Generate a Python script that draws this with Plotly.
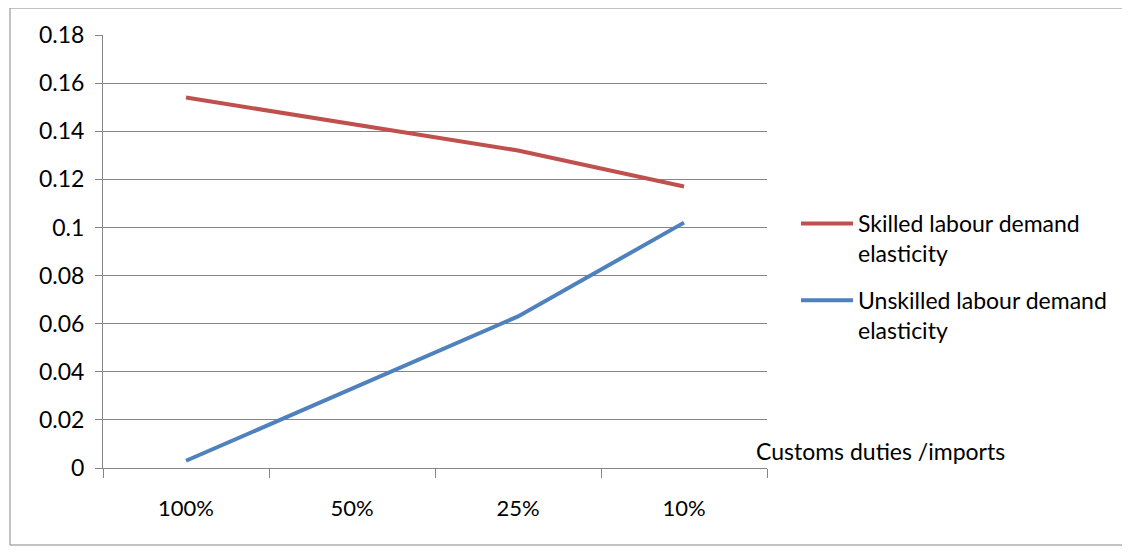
import plotly.graph_objects as go

categories = ["100%", "50%", "25%", "10%"]
skilled = [0.154, 0.143, 0.132, 0.117]
unskilled = [0.003, 0.033, 0.063, 0.102]
y_ticks = [0, 0.02, 0.04, 0.06, 0.08, 0.1, 0.12, 0.14, 0.16, 0.18]
y_tick_text = ["0", "0.02", "0.04", "0.06", "0.08", "0.1", "0.12", "0.14", "0.16", "0.18"]
series_names = ["Skilled labour demand<br>elasticity", "Unskilled labour demand<br>elasticity"]
x_title = "Customs duties /imports"

FONT = "Lato"
GRID = "#868686"
OFF = 8  # page body margin

fig = go.Figure()
fig.add_trace(go.Scatter(x=categories, y=skilled, mode="lines", name=series_names[0],
                         legendgroup="a", line=dict(color="#C0504D", width=4)))
fig.add_trace(go.Scatter(x=categories, y=unskilled, mode="lines", name=series_names[1],
                         legendgroup="b", line=dict(color="#4F81BD", width=4)))

FW, FH = 1130 - OFF, 552 - OFF
L, T = 103 - OFF, 35 - OFF
R, B = FW - (767 - OFF), FH - (468 - OFF)
W, H = FW - L - R, FH - T - B


def px(xp):
    return (xp - 103) / W


def py(yp):
    return (468 - yp) / H


fig.update_layout(
    width=FW, height=FH,
    margin=dict(l=L, r=R, t=T, b=B),
    paper_bgcolor="white", plot_bgcolor="white",
    font=dict(family=FONT, size=23, color="#000000"),
    showlegend=True,
    legend=dict(x=px(796), y=py(202), xanchor="left", yanchor="top",
                valign="top", font=dict(size=23), bgcolor="rgba(0,0,0,0)",
                tracegroupgap=14, itemwidth=52),
    xaxis=dict(type="category", range=[-0.5, 3.5], showgrid=False,
               showline=True, linecolor=GRID, linewidth=1,
               ticks="outside", tickson="boundaries", ticklen=9, tickcolor=GRID,
               ticklabelstandoff=21, tickfont=dict(size=22)),
    yaxis=dict(range=[0, 0.18], tickvals=y_ticks, ticktext=y_tick_text,
               showgrid=True, gridcolor=GRID, gridwidth=1,
               showline=True, linecolor=GRID, linewidth=1,
               ticks="outside", ticklen=7, tickcolor=GRID, zeroline=False,
               ticklabelstandoff=6, tickfont=dict(size=23)),
    annotations=[dict(text=x_title, xref="paper", yref="paper",
                      x=px(754), y=py(451), xanchor="left", yanchor="middle",
                      showarrow=False, font=dict(size=23))],
    shapes=[dict(type="rect", xref="paper", yref="paper",
                 x0=px(10), x1=px(1128), y0=py(545), y1=py(8),
                 line=dict(color="#868686", width=1), layer="below")],
)

fig.write_html("out.html")
